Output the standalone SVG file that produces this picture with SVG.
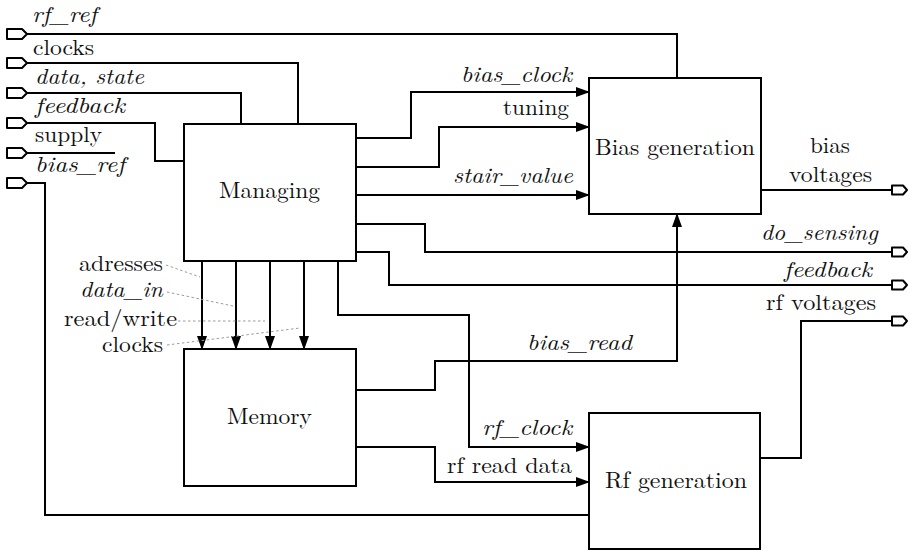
<svg xmlns="http://www.w3.org/2000/svg" width="910" height="551" viewBox="0 0 910 551">
  <defs>
    <style>
      .box { fill: #fff; stroke: #000; stroke-width: 2; }
      .wire { fill: none; stroke: #000; stroke-width: 2; stroke-linejoin: miter; }
      .arrow { marker-end: url(#head); }
      .lead { fill: none; stroke: #9a9a9a; stroke-width: 1; stroke-dasharray: 2.5 2.5; }
      .port { fill: #fff; stroke: #000; stroke-width: 2; stroke-linejoin: round; }
      .it { font-style: italic; }
    </style>
    <marker id="head" viewBox="0 0 14 10" refX="13" refY="5" markerWidth="14" markerHeight="10" markerUnits="userSpaceOnUse" orient="auto">
      <path d="M0,0 L14,5 L0,10 Z" fill="#000"/>
    </marker>
    <path id="portL" class="port" d="M0,-5 H15 L20,0 L15,5 H0 Z"/>
    <path id="portR" class="port" d="M0,-4.5 H11 L15,0 L11,4.5 H0 Z"/>
  </defs>

  <!-- connectors -->
  <g id="connectors">
    <path class="wire" d="M27,34 H677 V78"/>
    <path class="wire" d="M27,63 H298 V124"/>
    <path class="wire" d="M27,93 H241 V124"/>
    <path class="wire" d="M27,123 H155 V161 H184"/>
    <path class="wire" d="M27,153 H115"/>
    <path class="wire" d="M27,183 H45 V515 H589"/>

    <path class="wire arrow" d="M356,138 H411 V92 H589"/>
    <path class="wire arrow" d="M356,167 H439 V127 H589"/>
    <path class="wire arrow" d="M356,195 H589"/>
    <path class="wire" d="M356,224 H425 V252 H892"/>
    <path class="wire" d="M356,252 H389 V285 H892"/>
    <path class="wire" d="M761,190 H892"/>
    <path class="wire" d="M760,458 H801 V321 H892"/>

    <path class="wire arrow" d="M202,261 V349"/>
    <path class="wire arrow" d="M236,261 V349"/>
    <path class="wire arrow" d="M270,261 V349"/>
    <path class="wire arrow" d="M304,261 V349"/>

    <path class="wire arrow" d="M338,261 V315 H469 V447 H589"/>
    <path class="wire arrow" d="M356,390 H435 V361 H677 V214"/>
    <path class="wire arrow" d="M356,447 H435 V482 H589"/>

    <!-- leaders for the memory bus labels -->
    <path class="lead" d="M166,265 L200,277"/>
    <path class="lead" d="M167,292 L233,306"/>
    <path class="lead" d="M178,321 L265,321"/>
    <path class="lead" d="M167,345 L300,328"/>
  </g>

  <!-- input / output ports -->
  <g id="ports">
    <use href="#portL" x="7" y="34"/>
    <use href="#portL" x="7" y="63"/>
    <use href="#portL" x="7" y="93"/>
    <use href="#portL" x="7" y="123"/>
    <use href="#portL" x="7" y="153"/>
    <use href="#portL" x="7" y="183"/>
    <use href="#portR" x="892" y="190"/>
    <use href="#portR" x="892" y="252"/>
    <use href="#portR" x="892" y="285"/>
    <use href="#portR" x="892" y="321"/>
  </g>

  <!-- signal labels -->
  <g id="labels" font-family="Latin Modern Roman, Liberation Serif, serif" font-size="22" fill="#111">
    <text class="it" x="32" y="22" textLength="65" lengthAdjust="spacingAndGlyphs">rf_ref</text>
    <text x="33" y="55" textLength="61" lengthAdjust="spacingAndGlyphs">clocks</text>
    <text class="it" x="35" y="84" textLength="109" lengthAdjust="spacingAndGlyphs">data, state</text>
    <text class="it" x="35" y="113" textLength="90" lengthAdjust="spacingAndGlyphs">feedback</text>
    <text x="35" y="142" textLength="67" lengthAdjust="spacingAndGlyphs">supply</text>
    <text class="it" x="35" y="172" textLength="90" lengthAdjust="spacingAndGlyphs">bias_ref</text>

    <text class="it" x="461" y="82" textLength="111" lengthAdjust="spacingAndGlyphs">bias_clock</text>
    <text x="503" y="115" textLength="66" lengthAdjust="spacingAndGlyphs">tuning</text>
    <text class="it" x="453" y="183" textLength="120" lengthAdjust="spacingAndGlyphs">stair_value</text>

    <text x="810" y="153" textLength="40" lengthAdjust="spacingAndGlyphs">bias</text>
    <text x="789" y="182" textLength="83" lengthAdjust="spacingAndGlyphs">voltages</text>
    <text class="it" x="761" y="240" textLength="117" lengthAdjust="spacingAndGlyphs">do_sensing</text>
    <text class="it" x="784" y="277" textLength="88" lengthAdjust="spacingAndGlyphs">feedback</text>
    <text x="766" y="310" textLength="110" lengthAdjust="spacingAndGlyphs">rf voltages</text>

    <text class="it" x="527" y="350" textLength="105" lengthAdjust="spacingAndGlyphs">bias_read</text>
    <text class="it" x="482" y="435" textLength="90" lengthAdjust="spacingAndGlyphs">rf_clock</text>
    <text x="447" y="473" textLength="125" lengthAdjust="spacingAndGlyphs">rf read data</text>

    <text x="79" y="271" textLength="84" lengthAdjust="spacingAndGlyphs">adresses</text>
    <text class="it" x="80" y="297" textLength="83" lengthAdjust="spacingAndGlyphs">data_in</text>
    <text x="64" y="326" textLength="113" lengthAdjust="spacingAndGlyphs">read/write</text>
    <text x="102" y="352" textLength="61" lengthAdjust="spacingAndGlyphs">clocks</text>
  </g>

  <!-- blocks -->
  <g id="blocks" font-family="Latin Modern Roman, Liberation Serif, serif" font-size="23" fill="#111">
    <g id="managing">
      <rect class="box" x="184" y="124" width="172" height="137"/>
      <text x="219" y="198" textLength="101" lengthAdjust="spacingAndGlyphs">Managing</text>
    </g>
    <g id="bias-generation">
      <rect class="box" x="589" y="78" width="172" height="136"/>
      <text x="595" y="155" textLength="160" lengthAdjust="spacingAndGlyphs">Bias generation</text>
    </g>
    <g id="memory">
      <rect class="box" x="184" y="349" width="172" height="137"/>
      <text x="227" y="424" textLength="85" lengthAdjust="spacingAndGlyphs">Memory</text>
    </g>
    <g id="rf-generation">
      <rect class="box" x="589" y="413" width="171" height="136"/>
      <text x="605" y="488" textLength="142" lengthAdjust="spacingAndGlyphs">Rf generation</text>
    </g>
  </g>
</svg>
